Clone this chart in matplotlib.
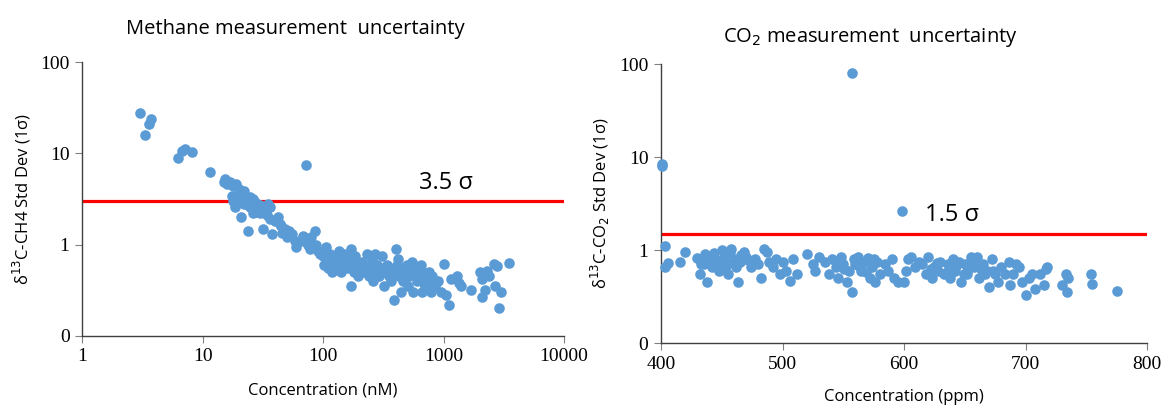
import matplotlib.pyplot as plt
from matplotlib.ticker import FixedLocator, FixedFormatter, NullLocator

# methane: concentration (nM) vs d13C std dev
ch4_conc = [3.0, 3.3, 3.6, 3.7, 6.2, 6.8, 7.1, 8.2, 11.5,
            15, 15.5, 16, 17, 18, 19, 20, 17.5, 18, 19, 20, 21, 22, 18.5, 21,
            23, 24, 25, 26, 27, 28, 24, 25, 26, 27, 29, 30, 31, 33, 34, 35, 36,
            32, 38, 40, 42, 44, 45, 48, 50, 52, 55, 58, 60, 65, 68, 70, 72, 75,
            78, 80, 85, 88, 90, 95, 22, 24, 28, 30, 36, 46,
            100, 102, 105, 108, 110, 112, 115, 118, 120, 125, 128, 130, 135, 140,
            142, 145, 150, 155, 160, 165, 170, 172, 175, 180, 185, 190, 195, 200,
            210, 220, 230, 235, 240, 250, 255, 260, 270, 275, 280, 290, 300, 310,
            320, 330, 340, 350, 360, 370, 380, 390, 400, 410, 420, 430, 440, 450,
            460, 480, 500, 510, 520, 540, 550, 560, 580, 600, 620, 640, 650, 660,
            680, 700, 720, 740, 760, 780, 800, 850, 900, 950, 130, 160, 210, 260,
            310, 360, 430, 470, 530, 610, 690, 750,
            1000, 1050, 1100, 1150, 1300, 1350, 1400, 1700, 2000, 2100, 2100,
            2200, 2300, 2400, 2600, 2700, 2800, 2900, 3000, 3500]
ch4_sd = [28, 16, 21, 24, 8.8, 10.5, 11.2, 10.3, 6.2,
          4.8, 5.2, 4.6, 4.9, 4.4, 4.6, 4.1, 3.4, 3.0, 3.3, 3.6, 3.2, 2.8, 2.6, 2.0,
          2.9, 3.1, 3.3, 3.2, 2.9, 2.5, 1.4, 2.6, 2.2, 2.3, 2.4, 2.2, 2.6, 2.3, 2.1, 2.8, 2.6,
          1.5, 1.3, 1.8, 2.0, 1.7, 1.6, 1.5, 1.2, 1.4, 1.3, 1.1, 0.95, 1.1, 1.25, 1.1, 7.5, 1.0,
          0.9, 1.2, 1.4, 1.0, 0.85, 0.8, 3.9, 2.7, 2.8, 2.7, 1.9, 1.35,
          0.75, 0.6, 0.95, 0.7, 0.55, 0.65, 0.8, 0.5, 0.7, 0.6, 0.75, 0.55, 0.85, 0.65,
          0.5, 0.7, 0.8, 0.6, 0.55, 0.7, 0.35, 0.9, 0.65, 0.5, 0.75, 0.6, 0.45, 0.55,
          0.65, 0.5, 0.8, 0.6, 0.45, 0.55, 0.7, 0.4, 0.8, 0.5, 0.6, 0.45, 0.55, 0.75,
          0.35, 0.5, 0.6, 0.45, 0.55, 0.4, 0.5, 0.25, 0.9, 0.6, 0.7, 0.45, 0.3, 0.55,
          0.4, 0.5, 0.6, 0.35, 0.45, 0.55, 0.65, 0.3, 0.5, 0.4, 0.55, 0.45, 0.6, 0.3,
          0.5, 0.35, 0.45, 0.4, 0.5, 0.3, 0.45, 0.35, 0.4, 0.3, 0.62, 0.72, 0.58, 0.62,
          0.52, 0.5, 0.48, 0.42, 0.5, 0.42, 0.38, 0.42,
          0.62, 0.28, 0.22, 0.42, 0.45, 0.38, 0.35, 0.32, 0.5, 0.42, 0.27,
          0.32, 0.52, 0.45, 0.62, 0.35, 0.58, 0.2, 0.3, 0.63]

# CO2: concentration (ppm) vs d13C std dev
co2_conc = [401, 401, 557, 598,
            403, 403, 406, 416, 420, 430, 432, 435, 436, 438, 440, 442, 444, 446,
            448, 450, 452, 454, 455, 457, 458, 460, 462, 463, 465, 468, 470, 474,
            477, 480, 482, 485, 487, 489, 492, 495, 498, 500, 503, 506, 509, 512,
            520, 525, 527, 530, 535, 538, 541, 544, 546, 548, 550, 553, 555, 557,
            559, 560, 562, 565, 567, 570, 572, 574, 576, 578, 580, 584, 587, 590,
            592, 595, 600, 602, 603, 606, 609, 612, 615, 618, 620, 623, 625, 628,
            630, 633, 636, 638, 640, 642, 645, 647, 650, 652, 655, 658, 660, 662,
            665, 668, 670, 672, 675, 677, 680, 683, 686, 687, 690, 692, 695, 697,
            700, 703, 705, 708, 712, 715, 717, 718, 730, 733, 734, 735, 754, 755, 775,
            433, 437, 441, 445, 449, 453, 459, 466, 472, 545, 551, 563, 569, 575,
            622, 627, 635, 643, 649, 653, 657, 663, 667, 673]
co2_sd = [8.5, 8.0, 80, 2.65,
          1.1, 0.65, 0.72, 0.75, 0.95, 0.82, 0.55, 0.7, 0.9, 0.45, 0.8, 0.65, 0.92, 0.75,
          0.6, 1.0, 0.85, 0.7, 0.55, 0.95, 1.02, 0.8, 0.65, 0.45, 0.75, 0.95, 0.85, 0.65,
          0.8, 0.7, 0.5, 1.02, 0.95, 0.75, 0.65, 0.8, 0.55, 0.75, 0.6, 0.47, 0.8, 0.55,
          0.9, 0.7, 0.6, 0.85, 0.75, 0.55, 0.8, 0.65, 0.5, 0.85, 0.7, 0.45, 0.6, 0.35,
          0.8, 0.7, 0.85, 0.6, 0.75, 0.82, 0.5, 0.65, 0.45, 0.75, 0.55, 0.7, 0.6, 0.8,
          0.5, 0.45, 0.45, 0.6, 0.8, 0.85, 0.65, 0.75, 0.7, 0.55, 0.85, 0.5, 0.65, 0.6,
          0.75, 0.55, 0.7, 0.5, 0.8, 0.6, 0.75, 0.45, 0.7, 0.55, 0.85, 0.65, 0.85, 0.5,
          0.7, 0.6, 0.4, 0.8, 0.55, 0.45, 0.65, 0.55, 0.75, 0.42, 0.55, 0.7, 0.65, 0.45,
          0.33, 0.5, 0.55, 0.38, 0.55, 0.42, 0.62, 0.65, 0.42, 0.55, 0.35, 0.5, 0.55, 0.43, 0.36,
          0.7, 0.85, 0.72, 0.68, 0.78, 0.62, 0.72, 0.88, 0.78, 0.72, 0.62, 0.68, 0.58, 0.8,
          0.62, 0.72, 0.58, 0.68, 0.55, 0.62, 0.72, 0.62, 0.55, 0.6]

ch4_limit = 3.0
co2_limit = 1.5
dot = '#5B9BD5'

plt.rcParams['font.family'] = ['Open Sans', 'DejaVu Sans']

fig = plt.figure(figsize=(11.67, 4.08), dpi=100)
ax1 = fig.add_axes([0.0703, 0.1765, 0.4130, 0.6715])
ax2 = fig.add_axes([0.5664, 0.1593, 0.4165, 0.6838])

for ax in (ax1, ax2):
    ax.set_yscale('log')
    ax.set_ylim(0.1, 100)
    ax.yaxis.set_major_locator(FixedLocator([0.1, 1, 10, 100]))
    ax.yaxis.set_major_formatter(FixedFormatter(['0', '1', '10', '100']))
    ax.yaxis.set_minor_locator(NullLocator())
    for s in ('top', 'right'):
        ax.spines[s].set_visible(False)
    for s in ('left', 'bottom'):
        ax.spines[s].set_color('#404040')
        ax.spines[s].set_linewidth(1.0)
    ax.tick_params(length=5, color='#808080', labelsize=14, pad=4)

ax1.set_xscale('log')
ax1.set_xlim(1, 10000)
ax1.xaxis.set_major_locator(FixedLocator([1, 10, 100, 1000, 10000]))
ax1.xaxis.set_major_formatter(FixedFormatter(['1', '10', '100', '1000', '10000']))
ax1.xaxis.set_minor_locator(NullLocator())
ax1.scatter(ch4_conc, ch4_sd, s=58, color=dot, linewidths=0, zorder=3, clip_on=False)
ax1.axhline(ch4_limit, color='#FF0000', lw=2.3, zorder=2)
ax1.text(620, 3.5, '3.5 σ', fontsize=17, va='bottom')
ax1.set_title('Methane measurement  uncertainty', fontsize=14.5, x=0.442, pad=20)
ax1.set_xlabel('Concentration (nM)', fontsize=12, labelpad=12)
ax1.set_ylabel('δ$^{13}$C-CH4 Std Dev (1σ)', fontsize=12, labelpad=5)

ax2.set_xlim(400, 800)
ax2.set_xticks([400, 500, 600, 700, 800])
ax2.scatter(co2_conc, co2_sd, s=58, color=dot, linewidths=0, zorder=3, clip_on=False)
ax2.axhline(co2_limit, color='#FF0000', lw=2.3, zorder=2)
ax2.text(617, 1.75, '1.5 σ', fontsize=17, va='bottom')
ax2.set_title('CO$_2$ measurement  uncertainty', fontsize=14.5, x=0.43, pad=16)
ax2.set_xlabel('Concentration (ppm)', fontsize=12, labelpad=12)
ax2.set_ylabel('δ$^{13}$C-CO$_2$ Std Dev (1σ)', fontsize=12, labelpad=5)

for ax in (ax1, ax2):
    for lab in ax.get_xticklabels() + ax.get_yticklabels():
        lab.set_family('Liberation Serif')

fig.savefig('out.png', dpi=100, facecolor='white')
